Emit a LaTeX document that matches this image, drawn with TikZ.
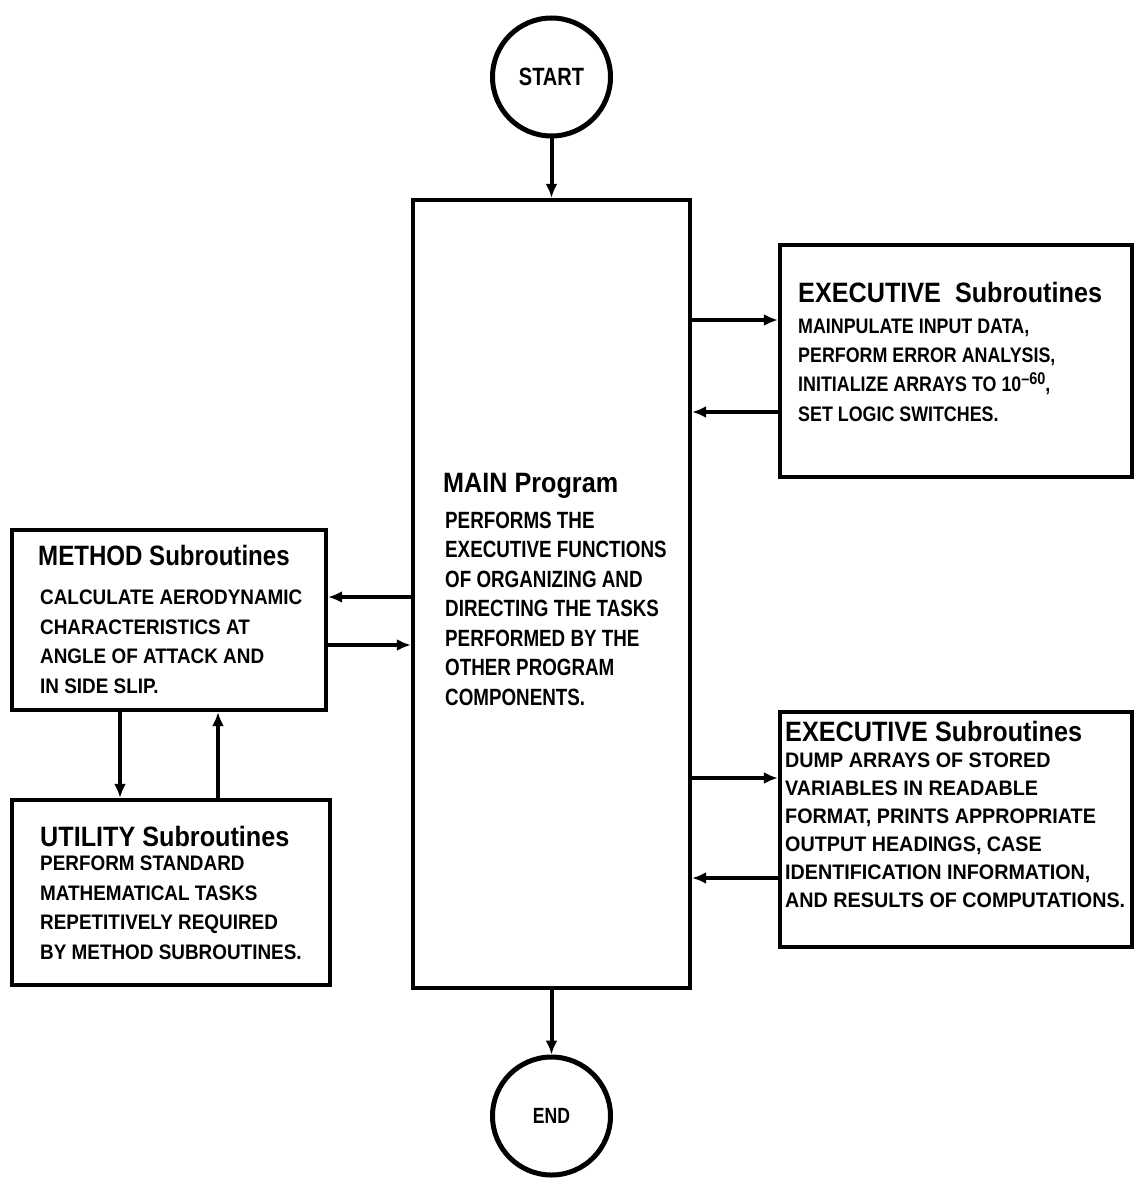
\documentclass[tikz,border=0pt]{standalone}
\usepackage{fontspec}
\setmainfont{Liberation Sans}
\newfontfamily\ttlfont{Liberation Sans}[FakeStretch=0.9]
\newfontfamily\ttlnarrow{Liberation Sans}[FakeStretch=0.86]
\newfontfamily\bA{Liberation Sans}[FakeStretch=0.85]
\newfontfamily\bB{Liberation Sans}[FakeStretch=0.94]
\newfontfamily\bC{Liberation Sans}[FakeStretch=0.9]
\newfontfamily\bD{Liberation Sans}[FakeStretch=0.8]
\usetikzlibrary{arrows.meta}
\begin{document}
\begin{tikzpicture}[x=1pt,y=-1pt,
  box/.style={draw, line width=4.2pt, rectangle, inner sep=0pt},
  term/.style={draw, circle, line width=5pt, minimum size=118pt, inner sep=0pt},
  arr/.style={line width=4pt, -{Latex[length=14pt,width=12pt]}},
  txt/.style={inner sep=0pt, align=left},
  ttl/.style={txt, anchor=base west, font=\ttlfont\bfseries\fontsize{28}{28}\selectfont},
  bodyA/.style={txt, anchor=north west, font=\bA\bfseries\fontsize{21}{29.3}\selectfont},
  bodyB/.style={txt, anchor=north west, font=\bB\bfseries\fontsize{21}{28}\selectfont},
  bodyC/.style={txt, anchor=north west, font=\bC\bfseries\fontsize{21}{29.7}\selectfont},
  bodyD/.style={txt, anchor=north west, font=\bD\bfseries\fontsize{23.5}{29.5}\selectfont}
]
\useasboundingbox (0,0) rectangle (1136,1180);

% boxes
\node[box, minimum width=277pt, minimum height=788pt] (main) at (551.5,594) {};
\node[box, minimum width=352pt, minimum height=232pt] (exec1) at (956,361) {};
\node[box, minimum width=352pt, minimum height=235pt] (exec2) at (956,829.5) {};
\node[box, minimum width=314pt, minimum height=180pt] (method) at (169,620) {};
\node[box, minimum width=318pt, minimum height=185pt] (utility) at (171,892.5) {};
\node[term, font=\bD\bfseries\fontsize{25}{25}\selectfont] (start) at (551.5,77) {START};
\node[term, font=\bD\bfseries\fontsize{22}{22}\selectfont] (end) at (551.5,1116) {END};

% texts
\node[ttl] (e1t) at (798,302) {EXECUTIVE\ \ Subroutines};
\node[bodyA] (e1b) at (798,318.5) {MAINPULATE INPUT DATA,\\PERFORM ERROR ANALYSIS,\\INITIALIZE ARRAYS TO 10\raisebox{7.5pt}{\fontsize{17}{17}\selectfont\textendash60},\\SET LOGIC SWITCHES.};

\node[ttl] (e2t) at (785,741) {EXECUTIVE Subroutines};
\node[bodyB] (e2b) at (785,753) {DUMP ARRAYS OF STORED\\VARIABLES IN READABLE\\FORMAT, PRINTS APPROPRIATE\\OUTPUT HEADINGS, CASE\\IDENTIFICATION INFORMATION,\\AND RESULTS OF COMPUTATIONS.};

\node[ttl, font=\ttlnarrow\bfseries\fontsize{28}{28}\selectfont] (mt) at (38,565) {METHOD Subroutines};
\node[bodyC] (mb) at (40,589.5) {CALCULATE AERODYNAMIC\\CHARACTERISTICS AT\\ANGLE OF ATTACK AND\\IN SIDE SLIP.};

\node[ttl] (ut) at (40,846) {UTILITY Subroutines};
\node[bodyC] (ub) at (40,855.5) {PERFORM STANDARD\\MATHEMATICAL TASKS\\REPETITIVELY REQUIRED\\BY METHOD SUBROUTINES.};

\node[ttl] (mnt) at (443,492) {MAIN Program};
\node[bodyD] (mnb) at (445,511.5) {PERFORMS THE\\EXECUTIVE FUNCTIONS\\OF ORGANIZING AND\\DIRECTING THE TASKS\\PERFORMED BY THE\\OTHER PROGRAM\\COMPONENTS.};

% connectors
\draw[arr] (start.south) -- (start.south |- main.north);
\draw[arr] (end.north |- main.south) -- (end.north);
\draw[arr] (main.east |- 0,320) -- (exec1.west |- 0,320);
\draw[arr] (exec1.west |- 0,412) -- (main.east |- 0,412);
\draw[arr] (main.east |- 0,778) -- (exec2.west |- 0,778);
\draw[arr] (exec2.west |- 0,878) -- (main.east |- 0,878);
\draw[arr] (main.west |- 0,597) -- (method.east |- 0,597);
\draw[arr] (method.east |- 0,645) -- (main.west |- 0,645);
\draw[arr] (method.south -| 120,0) -- (utility.north -| 120,0);
\draw[arr] (utility.north -| 218,0) -- (method.south -| 218,0);
\end{tikzpicture}
\end{document}
